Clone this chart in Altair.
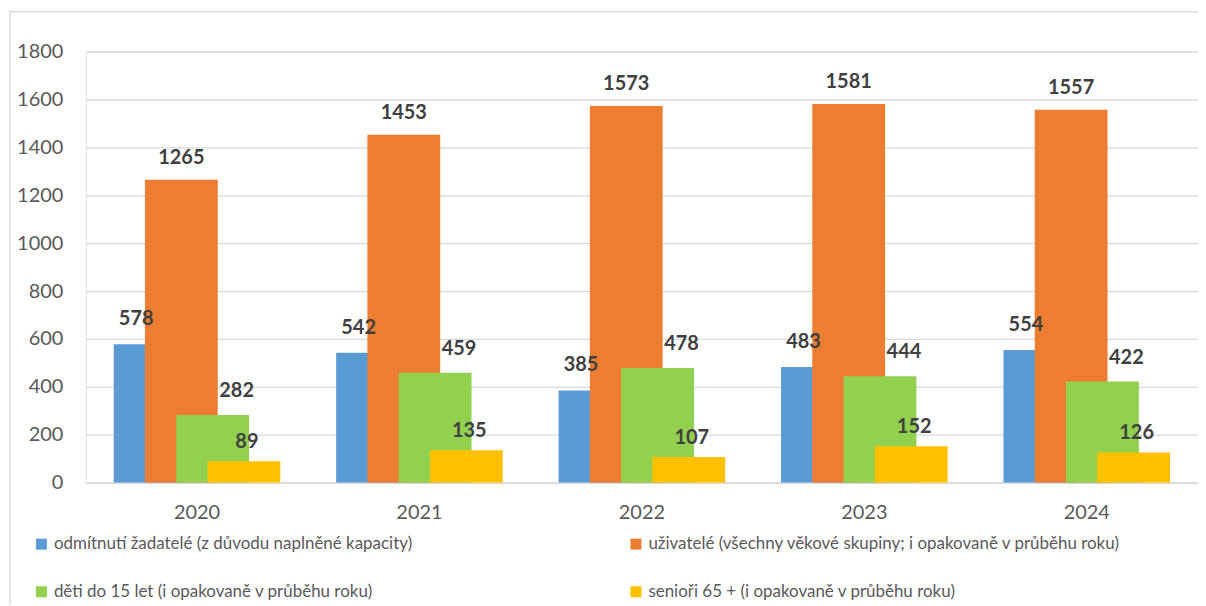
import altair as alt
import pandas as pd

years = ["2020", "2021", "2022", "2023", "2024"]
rejected = [578, 542, 385, 483, 554]
users = [1265, 1453, 1573, 1581, 1557]
children = [282, 459, 478, 444, 422]
seniors = [89, 135, 107, 152, 126]

series_names = [
    "odmítnutí žadatelé (z důvodu naplněné kapacity)",
    "uživatelé (všechny věkové skupiny; i opakovaně v průběhu roku)",
    "děti do 15 let (i opakovaně v průběhu roku)",
    "senioři 65 + (i opakovaně v průběhu roku)",
]
series_values = [rejected, users, children, seniors]
colors = ["#5B9BD5", "#ED7D31", "#92D050", "#FFC000"]

rows = []
for name, vals in zip(series_names, series_values):
    for yr, v in zip(years, vals):
        rows.append({"rok": yr, "rada": name, "pocet": v})
df = pd.DataFrame(rows)

# legend grid is filled column by column: left column blue, green; right column orange, yellow
legend_order = [0, 2, 1, 3]
legend_domain = [series_names[i] for i in legend_order]
legend_range = [colors[i] for i in legend_order]

bar_offsets = [-47, -15.7, 15.7, 47]
label_dx = [-14, 0, 24, 3]
label_dy = [-25, -22, -24, -19]

FONT = "Lato"
GRID = "#d9d9d9"

x = alt.X(
    "rok:N",
    sort=years,
    scale=alt.Scale(paddingInner=0, paddingOuter=0),
    axis=alt.Axis(title=None, labelAngle=0, labelFontSize=20, labelColor="#595959",
                  labelFont=FONT, ticks=False, domainColor=GRID, domainWidth=1.3,
                  labelPadding=20, grid=False),
)
y = alt.Y(
    "pocet:Q",
    scale=alt.Scale(domain=[0, 1800], nice=False),
    axis=alt.Axis(title=None, values=list(range(0, 1801, 200)), format="d",
                  labelFontSize=20, labelColor="#595959", labelFont=FONT, ticks=False,
                  domain=False, gridColor=GRID, gridWidth=1.3, labelPadding=23),
)
color = alt.Color(
    "rada:N",
    scale=alt.Scale(domain=legend_domain, range=legend_range),
    legend=alt.Legend(
        title=None, orient="none", legendX=-53, legendY=485, columns=2,
        symbolType="square", symbolSize=121, symbolStrokeWidth=0,
        labelFontSize=17, labelColor="#595959", labelFont=FONT, labelLimit=0,
        rowPadding=30, columnPadding=215, labelOffset=4,
    ),
)

frame = alt.Chart(pd.DataFrame({"f": [0]})).mark_rect(
    fillOpacity=0, stroke=GRID, strokeWidth=1.3
).encode(x=alt.value(-76), y=alt.value(-40), x2=alt.value(1200), y2=alt.value(620))

layers = [frame]
base = alt.Chart(df)
for name, off in zip(series_names, bar_offsets):
    layers.append(
        base.transform_filter(alt.datum.rada == name)
        .mark_bar(size=73, xOffset=off)
        .encode(x=x, y=y, color=color)
    )
for name, off, ldx, ldy in zip(series_names, bar_offsets, label_dx, label_dy):
    layers.append(
        base.transform_filter(alt.datum.rada == name)
        .mark_text(dx=off + ldx, dy=ldy, fontWeight="bold", fontSize=20, font=FONT,
                   color="#404040", baseline="middle", align="center")
        .encode(x=x, y=y, text="pocet:Q")
    )

chart = alt.layer(*layers).properties(
    width=1115, height=432,
    autosize=alt.AutoSizeParams(type="none"),
    padding={"left": 78, "top": 43, "right": 0, "bottom": 122},
).configure_view(stroke=None).configure(font=FONT)

chart.save("out.html", embed_options={"renderer": "svg", "actions": False})
